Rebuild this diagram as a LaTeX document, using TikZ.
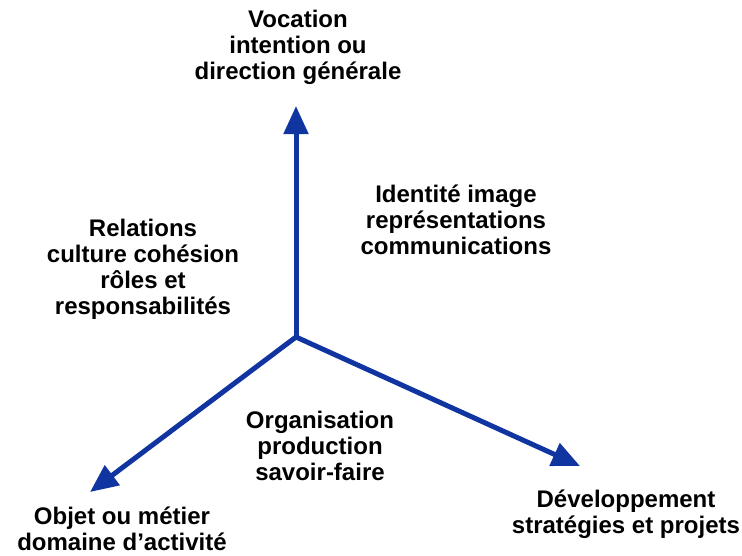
\documentclass[tikz,border=0pt]{standalone}
\usepackage{fontspec}
\setmainfont{Liberation Sans}
\usetikzlibrary{arrows.meta}
\definecolor{axisblue}{RGB}{16,52,160}
\tikzset{
  axe/.style={-{Triangle[width=24pt,length=28pt]},line width=5pt,draw=axisblue},
  lbl/.style={align=center,inner sep=0pt,font=\fontsize{24}{26}\selectfont\bfseries}
}

\begin{document}
\begin{tikzpicture}[x=1pt,y=-1pt]
    \useasboundingbox(0,0)rectangle(742,555);
    \coordinate(O)at(296,337);
    \coordinate(vocTip)at(296,106);
    \coordinate(objTip)at(90,492);
    \coordinate(devTip)at(580,466);
    \draw[axe](O)--(vocTip);
    \draw[axe](O)--(objTip);
    \draw[axe](O)--(devTip);
    \node[lbl](voc)at(298,47){Vocation\\intention ou\\direction générale};
    \node[lbl](ident)at(456,220){Identité image\\représentations\\communications};
    \node[lbl](rel)at(143,269){Relations\\culture cohésion\\rôles et\\responsabilités};
    \node[lbl](org)at(320,446){Organisation\\production\\savoir-faire};
    \node[lbl](obj)at(122,529){Objet ou métier\\domaine d’activité};
    \node[lbl](dev)at(626,514){Développement\\stratégies et projets};
\end{tikzpicture}
\end{document}
